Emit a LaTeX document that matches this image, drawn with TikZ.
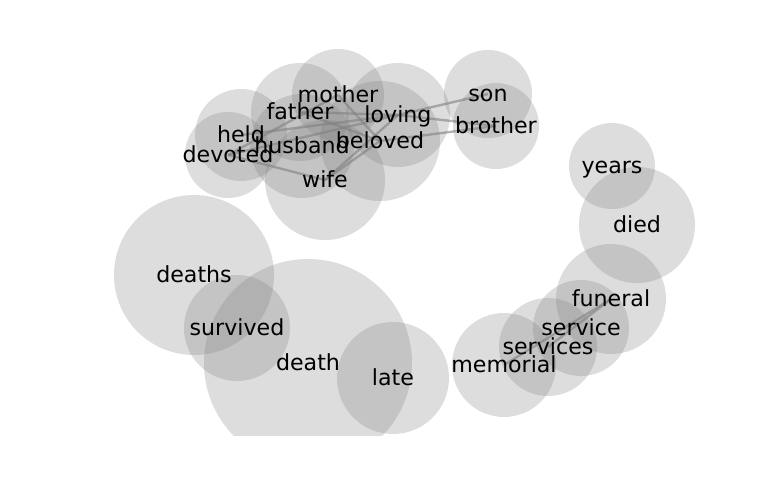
\documentclass[tikz,border=0pt]{standalone}
\usepackage{fontspec}
\setmainfont{DejaVu Sans}
\pgfdeclarelayer{circles}
\pgfdeclarelayer{words}
\pgfsetlayers{circles,main,words}
\tikzset{
  bubble/.style={fill=gray, fill opacity=0.27},
  word/.style={inner sep=0pt, text height=0.9em, text depth=0.1em, font=\fontsize{12.6}{15}\selectfont},
  link/.style={draw=gray, line width=1.35pt, draw opacity=0.6}
}

\begin{document}
\begin{tikzpicture}[x=0.02cm,y=-0.02cm]
\useasboundingbox (0,0) rectangle (768,500);
% Words and their circles
\foreach \n/\x/\y/\r in {deaths/194/275/80, death/308/363/104, survived/237/328/53,
  late/393/378/56, memorial/504/365/52, services/548/347/49, service/581/328/48,
  funeral/611/299/55, died/637/225/58, years/612/166/43, son/488/94/44,
  brother/496/126/43, loving/398/115/52, beloved/380/141/60, mother/338/95/46,
  father/300/112/49, husband/302/146/52, held/241/135/46, devoted/228/155/43,
  wife/325/180/60}{
  \begin{pgfonlayer}{circles}
    \begin{scope}
      \clip (0,0) rectangle (768,435);
      \fill[bubble] (\x,\y) circle (\r);
    \end{scope}
  \end{pgfonlayer}
  \begin{pgfonlayer}{words}
    \node[word] (\n) at (\x,\y) {\n};
  \end{pgfonlayer}
}
% Links
\foreach \a/\b in {devoted/mother, devoted/wife, devoted/loving, held/loving,
  father/loving, father/beloved, mother/beloved, wife/loving, wife/beloved,
  loving/son, loving/brother, beloved/brother, memorial/funeral, services/funeral}
  \draw[link] (\a.center) -- (\b.center);
\end{tikzpicture}
\end{document}
